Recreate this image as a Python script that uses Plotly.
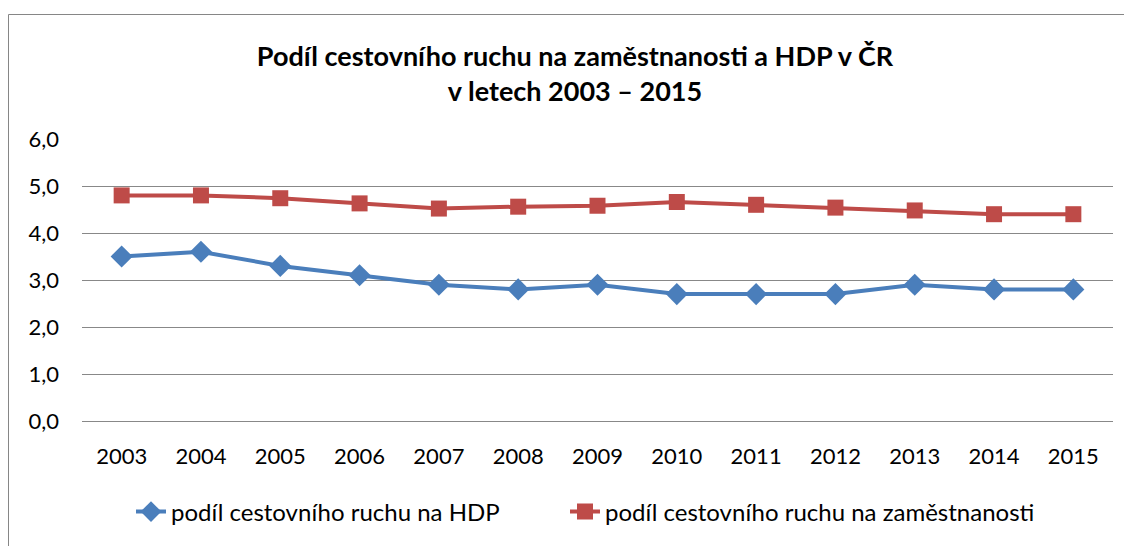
import plotly.graph_objects as go

years = ["2003", "2004", "2005", "2006", "2007", "2008", "2009", "2010", "2011", "2012", "2013", "2014", "2015"]
hdp = [3.5, 3.6, 3.3, 3.1, 2.9, 2.8, 2.9, 2.7, 2.7, 2.7, 2.9, 2.8, 2.8]
zamestnanost = [4.8, 4.8, 4.74, 4.63, 4.52, 4.56, 4.58, 4.66, 4.6, 4.54, 4.48, 4.4, 4.4]
y_ticks = [0, 1, 2, 3, 4, 5, 6]

FONT = "Lato"
OFF = 8  # page body margin

fig = go.Figure()
fig.add_trace(go.Scatter(
    x=years, y=hdp, mode="lines+markers", name="podíl cestovního ruchu na HDP",
    line=dict(color="#4A7EBB", width=4),
    marker=dict(symbol="diamond", size=17, color="#4A7EBB"),
    legend="legend",
))
fig.add_trace(go.Scatter(
    x=years, y=zamestnanost, mode="lines+markers", name="podíl cestovního ruchu na zaměstnanosti",
    line=dict(color="#BE4B48", width=4),
    marker=dict(symbol="square", size=16, color="#BE4B48"),
    legend="legend2",
))

W, H = 1132 - OFF, 546 - OFF
L, R = 82 - OFF, 1132 - 1113
T, B = 139 - OFF, 546 - 421
pw, ph = W - L - R, H - T - B

def sx(px):
    return (px - OFF - L) / pw

def sy(py):
    return (H - B - (py - OFF)) / ph

fig.add_shape(type="rect", xref="paper", yref="paper",
              x0=sx(8.5), x1=sx(1200),
              y0=sy(600), y1=sy(14.5),
              line=dict(color="#868686", width=1), fillcolor="rgba(0,0,0,0)", layer="below")

leg_common = dict(
    orientation="h", yanchor="middle", xanchor="left",
    font=dict(family=FONT, size=24, color="#000000"),
    bgcolor="rgba(0,0,0,0)",
)

fig.update_layout(
    width=W, height=H,
    margin=dict(l=L, r=R, t=T, b=B),
    paper_bgcolor="white", plot_bgcolor="white",
    separators=", ",
    font=dict(family=FONT, size=22, color="#000000"),
    title=dict(
        text="<b>Podíl cestovního ruchu na zaměstnanosti a HDP v ČR<br>v letech 2003 – 2015</b>",
        x=sx(575), xref="paper", xanchor="center",
        y=1 - 58 / H, yanchor="top",
        font=dict(family=FONT, size=27, color="#000000"),
    ),
    xaxis=dict(
        type="category", range=[-0.5, 12.5], showgrid=False, zeroline=False,
        showline=False, ticks="", ticklabelstandoff=20,
        tickfont=dict(family=FONT, size=22, color="#000000"),
    ),
    yaxis=dict(
        range=[0, 6], tickvals=y_ticks, tickformat=".1f",
        showgrid=True, gridcolor="#888888", gridwidth=1,
        zeroline=True, zerolinecolor="#888888", zerolinewidth=1,
        showline=False, ticks="", ticklabelstandoff=22,
        tickfont=dict(family=FONT, size=22, color="#000000"),
    ),
    showlegend=True,
    legend=dict(x=sx(131), y=sy(512), **leg_common),
    legend2=dict(x=sx(565), y=sy(512), **leg_common),
)

fig.write_html("out.html")
